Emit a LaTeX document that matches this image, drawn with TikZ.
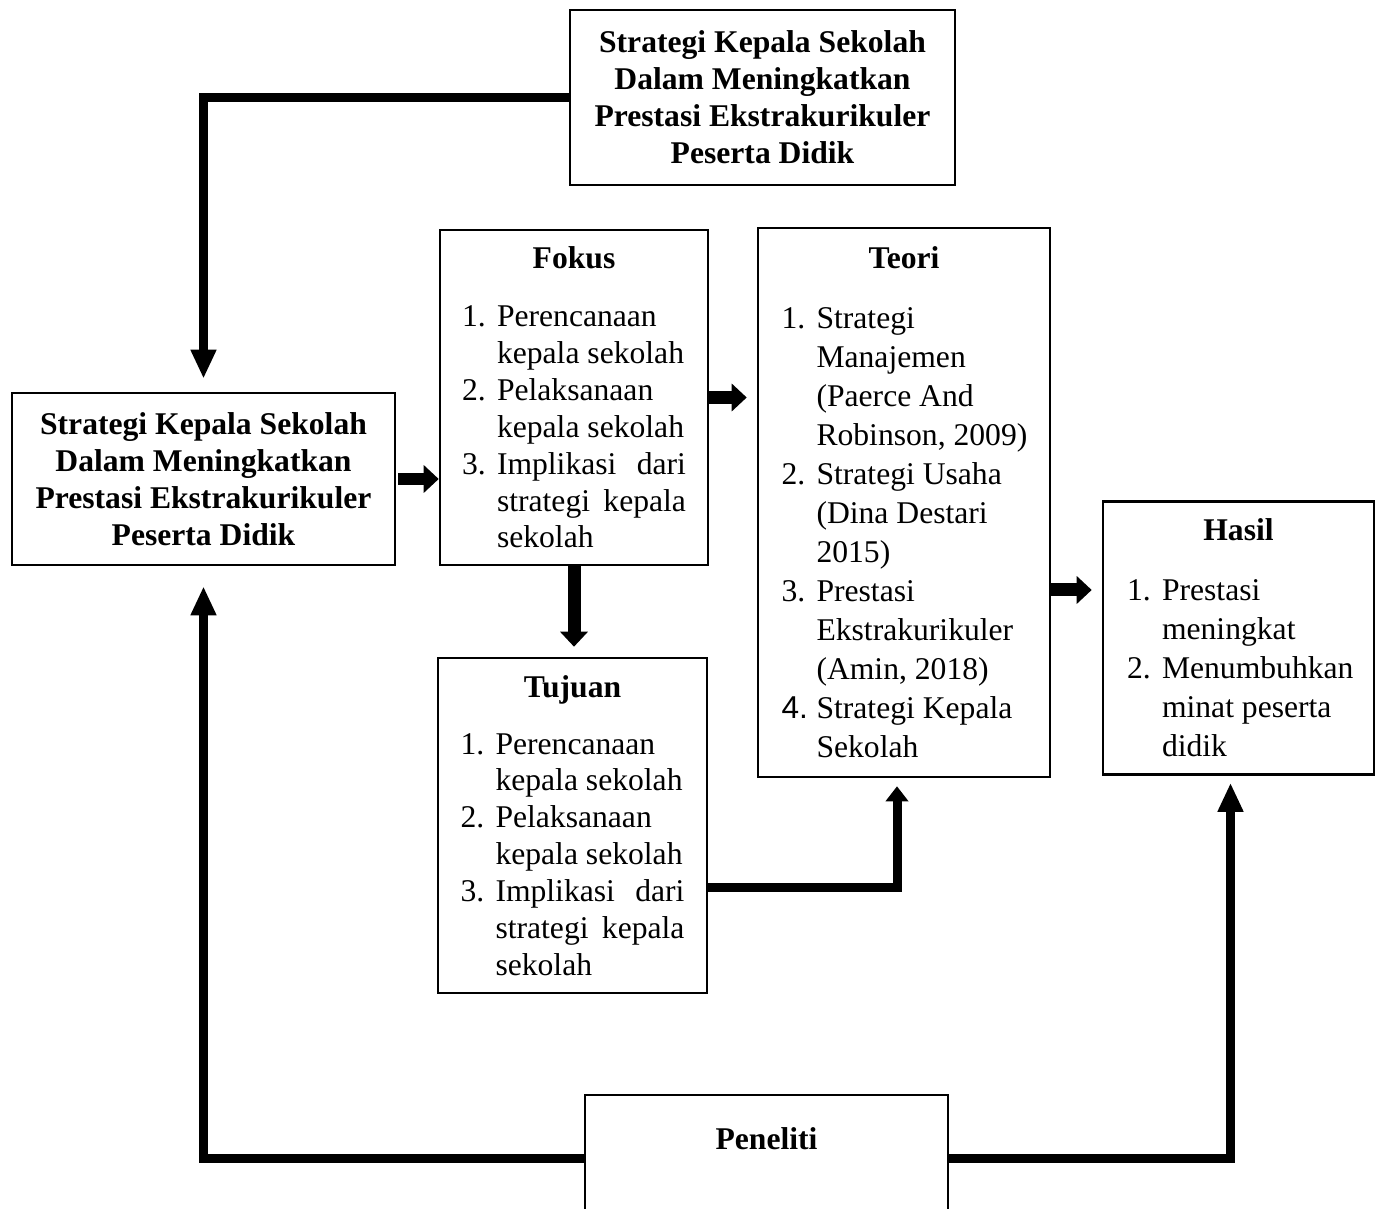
\documentclass[tikz,border=0pt]{standalone}
\usepackage{fontspec}
\setmainfont{Liberation Serif}
\newfontfamily\arialfont{Liberation Sans}
\usetikzlibrary{arrows.meta}

\newlength{\numw}\setlength{\numw}{0.7cm}
\newlength{\txw}\setlength{\txw}{3.78cm}
\newcommand{\li}[2]{\makebox[\numw][l]{#1}\makebox[\txw][l]{#2}}
\newcommand{\lj}[2]{\makebox[\numw][l]{#1}\makebox[\txw][s]{#2}}

\begin{document}
\begin{tikzpicture}[
  x=0.02cm, y=-0.02cm,
  % Node styles
  box/.style={
    draw,
    line width=1.5pt,
    inner sep=0pt,
    align=center,
    font=\fontsize{18}{21}\selectfont,
  },
  title box/.style={
    box,
    font=\bfseries\fontsize{18}{21}\selectfont,
  },
  list box/.style={
    box,
    execute at begin node={\setlength{\txw}{3.78cm}},
  },
  wide list/.style={
    box,
    font=\fontsize{18}{22.2}\selectfont,
  },
  % Edge styles
  link/.style={
    line width=0.18cm,
    -{Triangle[width=0.48cm,length=0.58cm]},
  },
  short link/.style={
    line width=0.18cm,
    -{Triangle[width=0.44cm,length=0.3cm]},
  },
  block/.style={
    line width=0.26cm,
    -{Triangle[width=0.54cm,length=0.3cm]},
  },
]

  % Page frame (the researcher box runs off the bottom)
  \clip (0,0) rectangle (1376,1209);

  % Title boxes
  \node[title box, minimum width=7.7cm, minimum height=3.5cm] (goal) at (762.5,97.5)
    {Strategi Kepala Sekolah\\ Dalam Meningkatkan\\ Prestasi Ekstrakurikuler\\ Peserta Didik};
  \node[title box, minimum width=7.66cm, minimum height=3.44cm] (strat) at (203.5,479)
    {Strategi Kepala Sekolah\\ Dalam Meningkatkan\\ Prestasi Ekstrakurikuler\\ Peserta Didik};

  % Fokus and Tujuan
  \node[list box, minimum width=5.36cm, minimum height=6.7cm] (fokus) at (574,397.5)
    {\textbf{Fokus}\\[0.42cm]
     \li{1.}{Perencanaan}\\ \li{}{kepala sekolah}\\
     \li{2.}{Pelaksanaan}\\ \li{}{kepala sekolah}\\
     \lj{3.}{Implikasi dari}\\ \lj{}{strategi kepala}\\ \li{}{sekolah}};
  \node[list box, minimum width=5.38cm, minimum height=6.7cm] (tujuan) at (572.5,825.5)
    {\textbf{Tujuan}\\[0.4cm]
     \li{1.}{Perencanaan}\\ \li{}{kepala sekolah}\\
     \li{2.}{Pelaksanaan}\\ \li{}{kepala sekolah}\\
     \lj{3.}{Implikasi dari}\\ \lj{}{strategi kepala}\\ \li{}{sekolah}};

  % Teori and Hasil
  \node[wide list, minimum width=5.84cm, minimum height=10.98cm,
        execute at begin node={\setlength{\txw}{4.2cm}}] (teori) at (904,502.5)
    {\textbf{Teori}\\[0.42cm]
     \li{1.}{Strategi}\\ \li{}{Manajemen}\\ \li{}{(Paerce And}\\ \li{}{Robinson, 2009)}\\
     \li{2.}{Strategi Usaha}\\ \li{}{(Dina Destari}\\ \li{}{2015)}\\
     \li{3.}{Prestasi}\\ \li{}{Ekstrakurikuler}\\ \li{}{(Amin, 2018)}\\
     \li{\arialfont 4.}{Strategi Kepala}\\ \li{}{Sekolah}};
  \node[wide list, minimum width=5.42cm, minimum height=5.46cm,
        execute at begin node={\setlength{\txw}{3.76cm}}] (hasil) at (1238.5,638)
    {\textbf{Hasil}\\[0.42cm]
     \li{1.}{Prestasi}\\ \li{}{meningkat}\\
     \li{2.}{Menumbuhkan}\\ \li{}{minat peserta}\\ \li{}{didik}};

  % Researcher
  \node[title box, minimum width=7.26cm, minimum height=2.52cm] (pen) at (766.5,1158)
    {\raisebox{0.18cm}[0pt][0pt]{Peneliti}};

  % Block arrows
  \draw[block, shorten <=0.04cm] (strat.east) -- (strat.east -| fokus.west);
  \draw[block, shorten >=0.2cm] (fokus.east) -- (fokus.east -| teori.west);
  \draw[block, shorten >=0.2cm] (fokus.south) -- (fokus.south |- tujuan.north);
  \coordinate (tout) at ([yshift=-1.75cm]teori.east);
  \draw[block, shorten >=0.2cm] (tout) -- (tout -| hasil.west);

  % Loop connectors
  \draw[link] (goal.west) -| ([yshift=0.26cm]strat.north);
  \draw[link] (pen.west) -| ([yshift=-0.4cm]strat.south);
  \draw[link] (pen.east) -| ([xshift=-0.16cm,yshift=-0.14cm]hasil.south);
  \coordinate (tjout) at ([yshift=-1.25cm]tujuan.east);
  \draw[short link] (tjout) -| ([xshift=-0.14cm,yshift=-0.16cm]teori.south);

\end{tikzpicture}
\end{document}
